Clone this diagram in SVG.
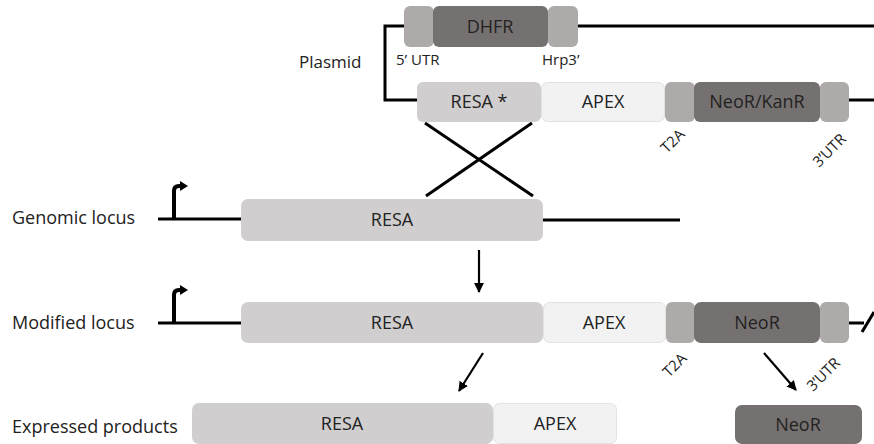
<svg xmlns="http://www.w3.org/2000/svg" width="874" height="444" viewBox="0 0 874 444">
<defs>
<style>
text{font-family:"Open Sans","Liberation Sans",sans-serif;font-size:18px;fill:#222}
.c{text-anchor:middle}
.sm{font-size:15px}
.light{fill:#d0cece}
.apex{fill:#f2f2f2;stroke:#e2e2e2;stroke-width:1}
.mid{fill:#aeaaaa}
.dark{fill:#767171}
.ln{stroke:#000;stroke-width:3;fill:none}
.ar{stroke:#000;stroke-width:2.2;fill:none}
</style>
<marker id="ah" viewBox="0 0 10 10" refX="9" refY="5" markerWidth="4.5" markerHeight="4.5" orient="auto" markerUnits="strokeWidth">
<path d="M0,0 L10,5 L0,10 z" fill="#000"/>
</marker>
</defs>
<rect width="874" height="444" fill="#fff"/>

<g id="row-labels">
<text x="299" y="68" style="font-size:17px">Plasmid</text>
<text x="12" y="224">Genomic locus</text>
<text x="12" y="329">Modified locus</text>
<text x="12" y="433">Expressed products</text>
</g>

<g id="connectors">
<path class="ln" d="M405,26 H385 V100 H418"/>
<line class="ln" x1="578" y1="26" x2="874" y2="26"/>
<line class="ln" x1="849" y1="100" x2="874" y2="100"/>
<line class="ln" x1="425" y1="123" x2="533" y2="196" stroke-width="2.5"/>
<line class="ln" x1="532" y1="123" x2="426" y2="196" stroke-width="2.5"/>
<line class="ln" x1="158" y1="219" x2="241" y2="219"/>
<line class="ln" x1="543" y1="220" x2="680" y2="220"/>
<path d="M174,219 V191 Q174,186 179,186 H181" stroke="#000" stroke-width="4" fill="none"/>
<path d="M180,181 L188,186 L180,191 z" fill="#000"/>
<line class="ln" x1="158" y1="323" x2="241" y2="323"/>
<path d="M174,323 V295 Q174,290 179,290 H181" stroke="#000" stroke-width="4" fill="none"/>
<path d="M180,285 L188,290 L180,295 z" fill="#000"/>
<line class="ln" x1="849" y1="323" x2="864" y2="323"/>
<line class="ln" x1="862" y1="332" x2="874" y2="312"/>
<line class="ar" x1="479" y1="250" x2="479" y2="292" marker-end="url(#ah)"/>
<line class="ar" x1="483" y1="353" x2="459" y2="391" marker-end="url(#ah)"/>
<line class="ar" x1="764" y1="353" x2="796" y2="390" marker-end="url(#ah)"/>
</g>

<g id="plasmid-5utr"><rect class="mid" x="404" y="6" width="30" height="41" rx="6"/><text x="396" y="65" style="font-size:15px">5’ UTR</text></g>
<g id="plasmid-dhfr"><rect class="dark" x="433" y="6" width="115" height="41" rx="6"/><text class="c" x="490" y="33">DHFR</text></g>
<g id="plasmid-hrp3"><rect class="mid" x="548" y="6" width="30" height="41" rx="6"/><text x="542" y="65" style="font-size:15px">Hrp3’</text></g>

<g id="plasmid-resa"><rect class="light" x="417" y="82" width="124" height="40" rx="6"/><text class="c" x="479" y="108">RESA *</text></g>
<g id="plasmid-apex"><rect class="apex" x="541.5" y="82.5" width="123" height="39" rx="6"/><text class="c" x="603" y="108">APEX</text></g>
<g id="plasmid-t2a"><rect class="mid" x="665" y="82" width="30" height="40" rx="6"/><text class="sm" transform="translate(667,154) rotate(-45)">T2A</text></g>
<g id="plasmid-neokan"><rect class="dark" x="694" y="82" width="126" height="40" rx="6"/><text class="c" x="757" y="108">NeoR/KanR</text></g>
<g id="plasmid-3utr"><rect class="mid" x="820" y="82" width="29" height="40" rx="6"/><text class="sm" transform="translate(819,168) rotate(-45)">3’UTR</text></g>

<g id="genomic-resa"><rect class="light" x="241" y="199" width="302" height="42" rx="7"/><text class="c" x="392" y="226">RESA</text></g>

<g id="modified-resa"><rect class="light" x="241" y="302" width="302" height="41" rx="7"/><text class="c" x="392" y="329">RESA</text></g>
<g id="modified-apex"><rect class="apex" x="543.5" y="302.5" width="122" height="40" rx="6"/><text class="c" x="604" y="329">APEX</text></g>
<g id="modified-t2a"><rect class="mid" x="666" y="302" width="29" height="41" rx="6"/><text class="sm" transform="translate(669,378) rotate(-45)">T2A</text></g>
<g id="modified-neor"><rect class="dark" x="694" y="302" width="126" height="41" rx="7"/><text class="c" x="757" y="329">NeoR</text></g>
<g id="modified-3utr"><rect class="mid" x="820" y="302" width="29" height="41" rx="6"/><text class="sm" transform="translate(813,392) rotate(-45)">3’UTR</text></g>

<g id="expressed-resa"><rect class="light" x="192" y="403" width="301" height="41" rx="7"/><text class="c" x="342" y="430">RESA</text></g>
<g id="expressed-apex"><rect class="apex" x="493.5" y="403.5" width="123" height="40" rx="6"/><text class="c" x="555" y="430">APEX</text></g>
<g id="expressed-neor"><rect class="dark" x="735" y="405" width="127" height="39" rx="7"/><text class="c" x="798" y="431">NeoR</text></g>
</svg>
